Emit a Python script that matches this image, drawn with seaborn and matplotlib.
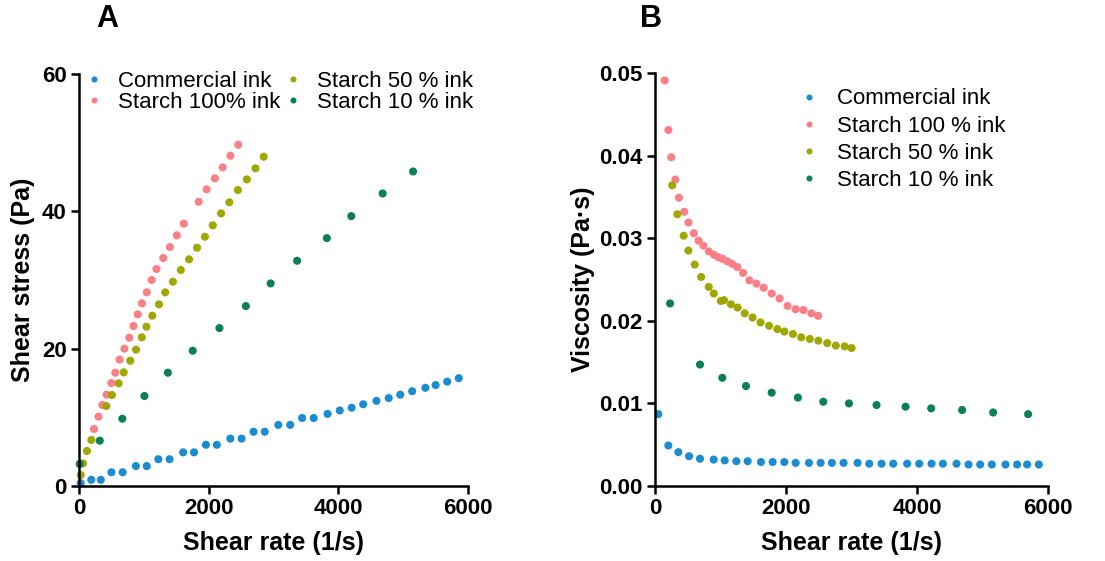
import pandas as pd
import seaborn as sns
import matplotlib.pyplot as plt

# ---- panel A : shear stress (Pa) vs shear rate (1/s) ----
a_comm_rate = [25, 189, 336, 500, 673, 877, 1045, 1224, 1397, 1606, 1774, 1958, 2126, 2335, 2508, 2692,
               2865, 3074, 3258, 3441, 3620, 3834, 4022, 4206, 4384, 4588, 4777, 4955, 5139, 5343, 5501, 5679, 5858]
a_comm_stress = [0.4, 0.9, 0.9, 2.0, 2.0, 2.9, 2.9, 3.9, 3.9, 4.9, 4.9, 6.0, 6.0, 6.9, 6.9, 7.9,
                 7.9, 8.9, 8.9, 9.9, 9.9, 10.5, 11.0, 11.4, 11.9, 12.4, 12.8, 13.3, 13.8, 14.3, 14.7, 15.2, 15.7]
a_s100_rate = [231, 300, 360, 425, 498, 560, 625, 700, 775, 840, 905, 970, 1045, 1120, 1195, 1300, 1402,
               1509, 1616, 1846, 1968, 2095, 2217, 2335, 2457]
a_s100_stress = [8.3, 10.1, 11.8, 13.3, 15.0, 16.5, 18.4, 20.0, 21.6, 23.3, 25.0, 26.6, 28.2, 30.0, 31.6,
                 33.2, 34.8, 36.5, 38.2, 41.4, 43.2, 44.8, 46.4, 48.1, 49.7]
a_s50_rate = [26, 62, 123, 190, 421, 508, 611, 690, 790, 880, 968, 1040, 1131, 1234, 1330, 1448, 1570,
              1697, 1820, 1942, 2064, 2191, 2319, 2451, 2589, 2722, 2849]
a_s50_stress = [1.6, 3.3, 5.1, 6.7, 11.65, 13.25, 14.95, 16.55, 18.24, 19.85, 21.65, 23.19, 24.8, 26.45,
                28.2, 29.75, 31.45, 33.01, 34.7, 36.3, 37.96, 39.7, 41.31, 43.1, 44.65, 46.26, 47.95]
a_s10_rate = [10, 320, 668, 1009, 1371, 1754, 2166, 2574, 2956, 3364, 3823, 4200, 4684, 5153]
a_s10_stress = [3.2, 6.6, 9.8, 13.1, 16.5, 19.7, 23.0, 26.2, 29.5, 32.8, 36.1, 39.3, 42.6, 45.8]

# ---- panel B : viscosity (Pa.s) vs shear rate (1/s) ----
b_comm_rate = [51, 203, 356, 519, 686, 895, 1063, 1241, 1414, 1617, 1795, 1973, 2146, 2349, 2527, 2700,
               2878, 3092, 3270, 3458, 3636, 3849, 4032, 4221, 4394, 4602, 4785, 4963, 5141, 5349, 5527, 5680, 5858]
b_comm_visc = [0.0087, 0.0049, 0.0041, 0.0036, 0.0033, 0.0032, 0.0031, 0.0030, 0.0030, 0.0029, 0.0029,
               0.0029, 0.0028, 0.0028, 0.0028, 0.0028, 0.0028, 0.0028, 0.0027, 0.0027, 0.0027, 0.0027,
               0.0027, 0.0027, 0.0027, 0.0027, 0.0026, 0.0026, 0.0026, 0.0026, 0.0026, 0.0026, 0.0026]
b_s100_rate = [146, 204, 247, 310, 364, 446, 509, 592, 664, 737, 820, 897, 965, 1028, 1101, 1174, 1256,
               1343, 1440, 1547, 1659, 1780, 1901, 2022, 2144, 2265, 2386, 2490]
b_s100_visc = [0.0491, 0.0431, 0.0398, 0.0371, 0.0349, 0.0332, 0.0319, 0.0306, 0.0297, 0.0291, 0.0284,
               0.0280, 0.0277, 0.0275, 0.0272, 0.0269, 0.0265, 0.0258, 0.0249, 0.0245, 0.0240, 0.0233,
               0.0227, 0.0218, 0.0214, 0.0213, 0.0209, 0.0206]
b_s50_rate = [262, 340, 437, 509, 606, 703, 820, 897, 1004, 1052, 1159, 1261, 1368, 1489, 1610, 1741,
              1867, 1974, 2105, 2231, 2362, 2493, 2629, 2760, 2895, 3000]
b_s50_visc = [0.0364, 0.0329, 0.0303, 0.0285, 0.0268, 0.0253, 0.0241, 0.0233, 0.0224, 0.0225, 0.0220,
              0.0216, 0.0209, 0.0204, 0.0198, 0.0194, 0.0190, 0.0187, 0.0184, 0.0180, 0.0178, 0.0176,
              0.0173, 0.0170, 0.0169, 0.0167]
b_s10_rate = [229, 686, 1027, 1388, 1780, 2181, 2568, 2960, 3381, 3824, 4215, 4688, 5161, 5695]
b_s10_visc = [0.0221, 0.0147, 0.0131, 0.0121, 0.0113, 0.0107, 0.0102, 0.0100, 0.0098, 0.0096, 0.0094,
              0.0092, 0.0089, 0.0087]

labels_a = ["Commercial ink", "Starch 100% ink", "Starch 50 % ink", "Starch 10 % ink"]
labels_b = ["Commercial ink", "Starch 100 % ink", "Starch 50 % ink", "Starch 10 % ink"]
colors = ["#1b8cd0", "#fb7f86", "#9fa700", "#0b7f55"]


def long_df(pairs, labels, ycol):
    frames = []
    for (x, y), lab in zip(pairs, labels):
        frames.append(pd.DataFrame({"rate": x, ycol: y, "ink": lab}))
    return pd.concat(frames, ignore_index=True)


df_a = long_df([(a_comm_rate, a_comm_stress), (a_s100_rate, a_s100_stress),
                (a_s50_rate, a_s50_stress), (a_s10_rate, a_s10_stress)], labels_a, "stress")
df_b = long_df([(b_comm_rate, b_comm_visc), (b_s100_rate, b_s100_visc),
                (b_s50_rate, b_s50_visc), (b_s10_rate, b_s10_visc)], labels_b, "visc")

sns.set_style("ticks")
plt.rcParams['font.family'] = ['Liberation Sans', 'DejaVu Sans']
plt.rcParams.update({"text.color": "black", "axes.labelcolor": "black",
                     "xtick.color": "black", "ytick.color": "black", "axes.edgecolor": "black"})

fig = plt.figure(figsize=(11.05, 5.61), dpi=100)
ax1 = fig.add_axes([0.0715, 0.1337, 0.352, 0.7344])
ax2 = fig.add_axes([0.5928, 0.1337, 0.3557, 0.7362])

sns.scatterplot(data=df_a, x="rate", y="stress", hue="ink", hue_order=labels_a,
                palette=dict(zip(labels_a, colors)), s=34, linewidth=0, clip_on=False, ax=ax1)
sns.scatterplot(data=df_b, x="rate", y="visc", hue="ink", hue_order=labels_b,
                palette=dict(zip(labels_b, colors)), s=34, linewidth=0, clip_on=False, ax=ax2)

ax1.set_ylim(0, 60)
ax1.set_yticks([0, 20, 40, 60])
ax2.set_ylim(0, 0.05)
ax2.set_yticks([0.0, 0.01, 0.02, 0.03, 0.04, 0.05])
ax2.set_yticklabels(["0.00", "0.01", "0.02", "0.03", "0.04", "0.05"])

for ax in (ax1, ax2):
    ax.set_xlim(0, 6000)
    ax.set_xticks([0, 2000, 4000, 6000])
    sns.despine(ax=ax)
    for sp in ("left", "bottom"):
        ax.spines[sp].set_linewidth(1.8)
    ax.tick_params(width=1.8, length=6, labelsize=16, pad=3)
    for t in ax.get_xticklabels() + ax.get_yticklabels():
        t.set_fontweight("bold")
    ax.set_xlabel("Shear rate (1/s)", fontsize=18, fontweight="bold", labelpad=8)

ax1.set_ylabel("Shear stress (Pa)", fontsize=18, fontweight="bold", labelpad=5)
ax2.set_ylabel("Viscosity (Pa·s)", fontsize=18, fontweight="bold", labelpad=3)

h1, l1 = ax1.get_legend_handles_labels()
ax1.legend(h1, l1, ncol=2, loc="upper left", bbox_to_anchor=(-0.025, 1.04), frameon=False,
           fontsize=16, markerscale=0.75, handletextpad=0.6, columnspacing=0.05,
           labelspacing=0.0, handlelength=1.0, borderaxespad=0.2)
h2, l2 = ax2.get_legend_handles_labels()
ax2.legend(h2, l2, loc="upper left", bbox_to_anchor=(0.33, 0.995), frameon=False,
           fontsize=16, markerscale=0.75, handletextpad=0.76, labelspacing=0.28,
           handlelength=1.0, borderaxespad=0.2)

fig.text(107 / 1105, 1 - 19 / 561, "A", fontsize=22, fontweight="bold", ha="center", va="center")
fig.text(651 / 1105, 1 - 19 / 561, "B", fontsize=22, fontweight="bold", ha="center", va="center")

fig.savefig("out.png", dpi=100)
